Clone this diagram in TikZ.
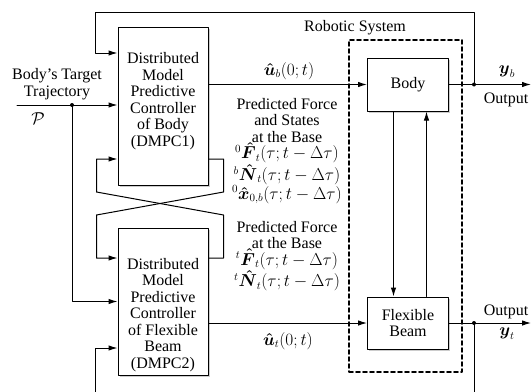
\documentclass[tikz,border=0pt]{standalone}
\usepackage{amsmath}
\usepackage{amssymb}
\usepackage[no-math]{fontspec}
\setmainfont{Liberation Serif}
\usepackage{tikz}
\usetikzlibrary{shapes,arrows.meta}
\usetikzlibrary{calc}
\usetikzlibrary{shadows}

\begin{document}
\begin{tikzpicture}[line cap=round,line join=round,>={Latex[length=9pt,width=5.5pt]},x=1pt,y=-1pt,
		every node/.style={font=\fontsize{16}{16.5}\selectfont},
		block/.style={draw,line width=1pt,fill=white,drop shadow={shadow xshift=1.5pt,shadow yshift=-1.5pt,opacity=0.4}},
		wire/.style={line width=1pt}]
			\useasboundingbox (0,0) rectangle (532,391);
			\clip (0,0) rectangle (532,391);
			% robotic system
			\node[draw,line width=1.6pt,dash pattern=on 4pt off 3pt,minimum width=113,minimum height=332,inner sep=0pt] (sys) at (405.5,206) {};
			\node (systitle) at (355,28) {Robotic System};
			% blocks
			\node[block,minimum width=90,minimum height=158] (dmpc1) at (163,106) {};
			\node[align=center] (dmpc1txt) at (163,101) {Distributed\\Model\\Predictive\\Controller\\of Body\\(DMPC1)};
			\node[block,minimum width=90,minimum height=147] (dmpc2) at (163,301.5) {};
			\node[align=center] (dmpc2txt) at (163,315) {Distributed\\Model\\Predictive\\Controller\\of Flexible\\Beam\\(DMPC2)};
			\node[block,minimum width=81,minimum height=53] (body) at (408,84.5) {Body};
			\node[block,minimum width=81,minimum height=52,align=center] (beam) at (408,323) {Flexible\\Beam};
			% ports
			\coordinate (pin) at (17,105);
			\coordinate (tap) at (72,105);
			\coordinate (in1top) at ($(dmpc1.west)+(0,-53)$);
			\coordinate (in1bot) at ($(dmpc1.west)+(0,53)$);
			\coordinate (out1bot) at ($(dmpc1.east)+(0,53)$);
			\coordinate (in2top) at ($(dmpc2.west)+(0,-43.5)$);
			\coordinate (in2bot) at ($(dmpc2.west)+(0,46.5)$);
			\coordinate (out2top) at ($(dmpc2.east)+(0,-43.5)$);
			\coordinate (out2mid) at ($(dmpc2.east)+(0,21.5)$);
			\coordinate (ybtap) at ($(body.east)+(25,0)$);
			\coordinate (ybend) at ($(body.east)+(82,0)$);
			\coordinate (yttap) at ($(beam.east)+(25,0)$);
			\coordinate (ytend) at ($(beam.east)+(82,0)$);
			% connections
			\draw[wire,->] (pin) -- (pin -| dmpc1.west);
			\draw[wire,->] (tap) |- (dmpc2.west);
			\fill (tap) circle (2pt);
			\draw[wire,->] (dmpc1.east |- body.west) -- (body.west);
			\draw[wire,->] (out2mid) -- (beam.west);
			\draw[wire,->] (body.east) -- (ybend);
			\draw[wire,->] (beam.east) -- (ytend);
			\fill (ybtap) circle (2pt);
			\fill (yttap) circle (2pt);
			\draw[wire,->] (ybtap) -- ++(0,-72.5) -| ($(in1top)+(-22,0)$) -- (in1top);
			\draw[wire,->] (yttap) -- ++(0,80) -| ($(in2bot)+(-22,0)$) -- (in2bot);
			\draw[wire,->] (out1bot) -- ++(15,0) -- ++(0,33) -- ++(-127,23) -- ++(0,43) -- (in2top);
			\draw[wire,->] (out2top) -- ++(15,0) -- ++(0,-43) -- ++(-127,-23) -- ++(0,-33) -- (in1bot);
			\draw[wire,->] ($(body.south)+(-14.5,0)$) -- ($(beam.north)+(-14.5,0)$);
			\draw[wire,->] ($(beam.north)+(18.5,0)$) -- ($(body.south)+(18.5,0)$);
			% labels
			\node[align=center] (trajlbl) at (57,84) {Body's Target\\Trajectory};
			\node (plbl) at (38,119) {$\mathcal{P}$};
			\node (ublbl) at (289,71) {$\boldsymbol{\hat u}_b(0;t)$};
			\node (utlbl) at (288,341) {$\boldsymbol{\hat u}_t(0;t)$};
			\node[align=center] (fb1lbl) at (287,151) {Predicted Force\\and States\\at the Base\\${}^0\boldsymbol{\hat F}_t(\tau;t-\Delta\tau)$\\${}^b\boldsymbol{\hat N}_t(\tau;t-\Delta\tau)$\\${}^0\boldsymbol{\hat x}_{0,b}(\tau;t-\Delta\tau)$};
			\node[align=center] (fb2lbl) at (287,256) {Predicted Force\\at the Base\\${}^t\boldsymbol{\hat F}_t(\tau;t-\Delta\tau)$\\${}^t\boldsymbol{\hat N}_t(\tau;t-\Delta\tau)$};
			\node (yblbl) at (507,72) {$\boldsymbol{y}_b$};
			\node (outblbl) at (506,100) {Output};
			\node (outtlbl) at (506,312) {Output};
			\node (ytlbl) at (507,334) {$\boldsymbol{y}_t$};
\end{tikzpicture}
\end{document}
